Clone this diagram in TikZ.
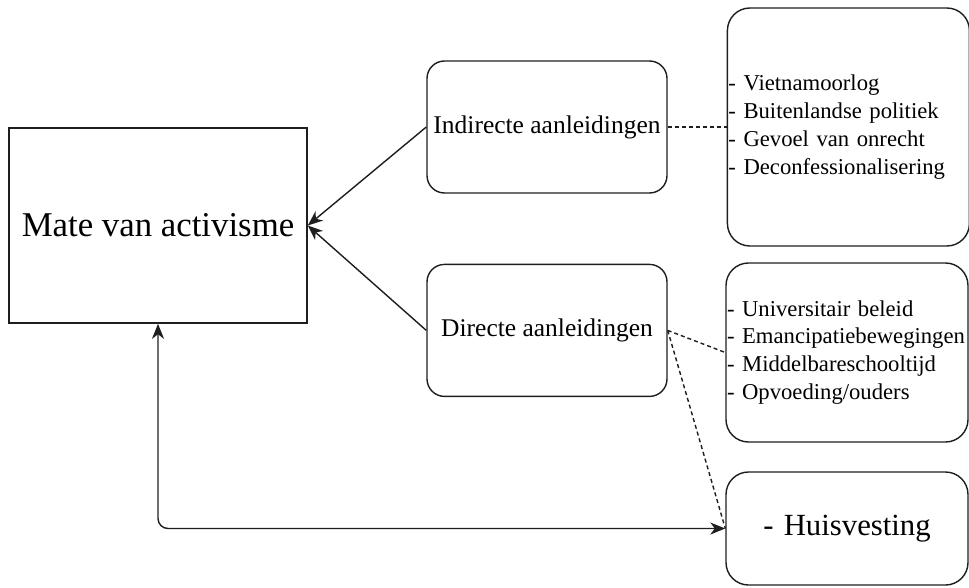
\documentclass[tikz,border=0pt]{standalone}
\usepackage{fontspec}
\setmainfont{Liberation Serif}
\usepackage{tikz}
\usetikzlibrary{arrows.meta, positioning}
\definecolor{linegray}{RGB}{30, 30, 30}
\tikzset{
    flowtip/.tip={Stealth[length=3mm, width=2.4mm, inset=0.9mm]},
    mainbox/.style={draw=linegray, rectangle, line width=0.9pt, minimum width=5.96cm, minimum height=3.9cm, font=\fontsize{19.8}{24}\selectfont},
    causebox/.style={draw=linegray, rectangle, rounded corners=0.35cm, line width=0.8pt, minimum width=4.8cm, minimum height=2.64cm, font=\fontsize{14.5}{17}\selectfont},
    listbox/.style={draw=linegray, rectangle, rounded corners=0.45cm, line width=0.8pt, minimum width=4.84cm, text width=4.8cm, inner xsep=0.02cm, align=left, font=\fontsize{12.9}{15.9}\selectfont},
    flowarrow/.style={-{flowtip}, line width=0.8pt, draw=linegray},
    linkline/.style={dash pattern=on 2.3pt off 1.7pt, line width=0.8pt, draw=linegray},
}
\begin{document}
\begin{tikzpicture}
                \useasboundingbox (0,0) rectangle (19.38,11.74);
                % Central factor
                \node[mainbox] (activism) at (3.16,7.23) {Mate van activisme};
                
                % Causes
                \node[causebox] (indirect) at (10.94,9.2) {Indirecte aanleidingen};
                \node[causebox, below=1.4cm of indirect] (direct) {Directe aanleidingen};
                
                % Lists of factors
                \node[listbox, minimum height=4.76cm, right=1.18cm of indirect] (indirectlist)
                      {- Vietnamoorlog\\- Buitenlandse politiek\\- Gevoel van onrecht\\- Deconfessionalisering};
                \node[listbox, minimum height=3.58cm] (directlist) at (16.94,4.69)
                      {- Universitair beleid\\- Emancipatiebewegingen\\- Middelbareschooltijd\\- Opvoeding/ouders};
                \node[listbox, minimum height=2.26cm, align=center, font=\fontsize{17.5}{21}\selectfont] (housing) at (16.94,1.17)
                      {- Huisvesting};
                
                \draw[flowarrow] (indirect.west) -- (activism.east);
                \draw[flowarrow] (direct.west) -- (activism.east);
                \draw[flowarrow, {flowtip}-{flowtip}, rounded corners=0.2cm] (activism.south) |- (housing.west);
                
                \draw[linkline] (indirect.east) -- (indirectlist.west);
                \draw[linkline] (direct.east) -- (directlist.west);
                \draw[linkline] (direct.east) -- (housing.west);
            \end{tikzpicture}
\end{document}
